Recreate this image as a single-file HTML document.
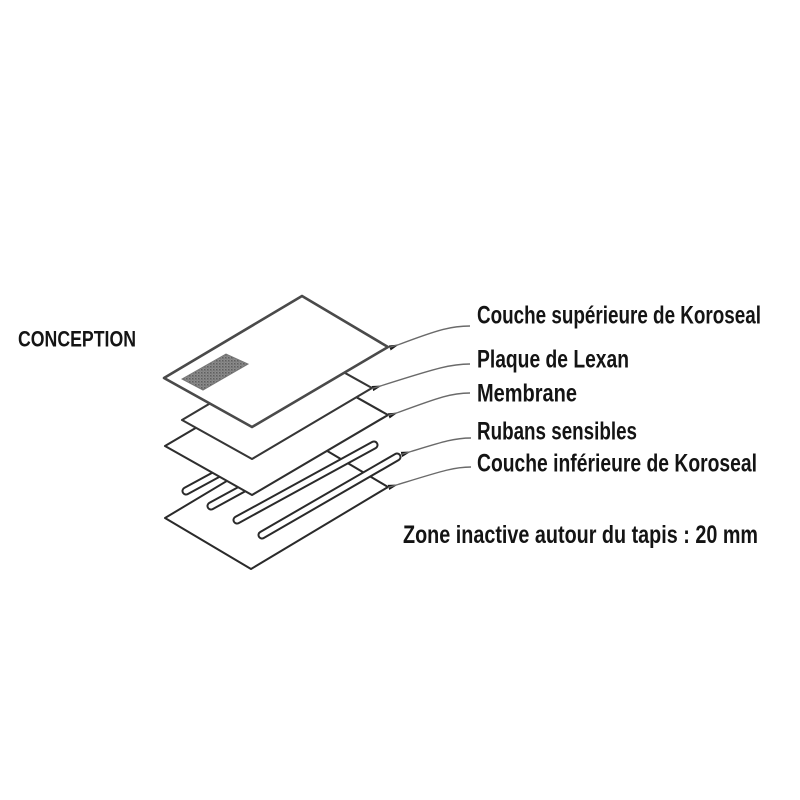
<!DOCTYPE html>
<html>
<head>
<meta charset="utf-8">
<style>
  html, body { margin:0; padding:0; background:#ffffff; }
  svg { display:block; }
  text { font-family: "Liberation Sans", Arial, sans-serif; font-weight: bold; fill: #141414; }
</style>
</head>
<body>
<svg width="800" height="800" viewBox="0 0 800 800" xmlns="http://www.w3.org/2000/svg">
  <defs>
    <marker id="ah" viewBox="0 0 10 6" refX="0" refY="3" markerWidth="10" markerHeight="6" markerUnits="userSpaceOnUse" orient="auto">
      <path d="M0,3 L10,0.3 L10,5.7 Z" fill="#1a1a1a"/>
    </marker>
    <pattern id="hp" width="3" height="3" patternUnits="userSpaceOnUse">
      <rect width="3" height="3" fill="#8c8c8c"/>
      <rect x="0" y="0" width="1.5" height="1.5" fill="#5e5e5e"/>
      <rect x="1.5" y="1.5" width="1" height="1" fill="#6a6a6a"/>
    </pattern>
  </defs>
  <rect width="800" height="800" fill="#ffffff"/>

  <!-- Bottom Koroseal layer -->
  <polygon points="302,436 388,487 251,569 165,518" fill="#ffffff" stroke="#2a2a2a" stroke-width="2" stroke-linejoin="round"/>

  <!-- Sensing strips -->
  <g stroke-linecap="round">
    <line x1="186" y1="491" x2="326" y2="415" stroke="#2a2a2a" stroke-width="9"/>
    <line x1="186" y1="491" x2="326" y2="415" stroke="#ffffff" stroke-width="5"/>
    <line x1="211" y1="506" x2="350" y2="430" stroke="#2a2a2a" stroke-width="9"/>
    <line x1="211" y1="506" x2="350" y2="430" stroke="#ffffff" stroke-width="5"/>
    <line x1="237" y1="520" x2="374" y2="445" stroke="#2a2a2a" stroke-width="9"/>
    <line x1="237" y1="520" x2="374" y2="445" stroke="#ffffff" stroke-width="5"/>
    <line x1="262" y1="535" x2="397" y2="457" stroke="#2a2a2a" stroke-width="9"/>
    <line x1="262" y1="535" x2="397" y2="457" stroke="#ffffff" stroke-width="5"/>
  </g>

  <!-- Membrane -->
  <polygon points="301,366 388,415 252,495 165,446" fill="#ffffff" stroke="#2e2e2e" stroke-width="2.1" stroke-linejoin="round"/>

  <!-- Lexan plate -->
  <polygon points="302,349 372,388 252,459 182,420" fill="#ffffff" stroke="#363636" stroke-width="2.1" stroke-linejoin="round"/>

  <!-- Top Koroseal layer -->
  <polygon points="302,296 388,347 252,427 164,378" fill="#ffffff" stroke="#4a4a4a" stroke-width="2.6" stroke-linejoin="round"/>
  <!-- hatched area -->
  <polygon points="182,379 226,354 248,364 203,390" fill="url(#hp)" stroke="#777777" stroke-width="1"/>

  <!-- Leader lines -->
  <g fill="none" stroke="#6a6a6a" stroke-width="1.4">
    <path d="M470,326 C452,326 440,329 399,344.5" marker-end="url(#ah)"/>
    <line x1="399" y1="344.5" x2="389" y2="347.5"/>
    <path d="M470,364 C452,364 440,367 382,385.5" marker-end="url(#ah)"/>
    <line x1="382" y1="385.5" x2="372" y2="388.5"/>
    <path d="M470,393 C452,393 440,397 398,412.5" marker-end="url(#ah)"/>
    <line x1="398" y1="412.5" x2="388" y2="415.5"/>
    <path d="M471,438 C454,438 442,442 411,451.5" marker-end="url(#ah)"/>
    <line x1="411" y1="451.5" x2="401" y2="454.5"/>
    <path d="M471,467 C454,467 442,471 398,484.5" marker-end="url(#ah)"/>
    <line x1="398" y1="484.5" x2="388" y2="487.5"/>
  </g>

  <!-- Labels -->
  <text x="18" y="346.5" font-size="22" textLength="118" lengthAdjust="spacingAndGlyphs">CONCEPTION</text>
  <text x="477" y="323.5" font-size="25" textLength="284" lengthAdjust="spacingAndGlyphs">Couche supérieure de Koroseal</text>
  <text x="477" y="367.5" font-size="25" textLength="152" lengthAdjust="spacingAndGlyphs">Plaque de Lexan</text>
  <text x="477" y="401.5" font-size="25" textLength="100" lengthAdjust="spacingAndGlyphs">Membrane</text>
  <text x="477" y="439.5" font-size="25" textLength="160" lengthAdjust="spacingAndGlyphs">Rubans sensibles</text>
  <text x="477" y="471.5" font-size="25" textLength="280" lengthAdjust="spacingAndGlyphs">Couche inférieure de Koroseal</text>
  <text x="403" y="543" font-size="25" textLength="355" lengthAdjust="spacingAndGlyphs">Zone inactive autour du tapis : 20 mm</text>
</svg>
</body>
</html>
